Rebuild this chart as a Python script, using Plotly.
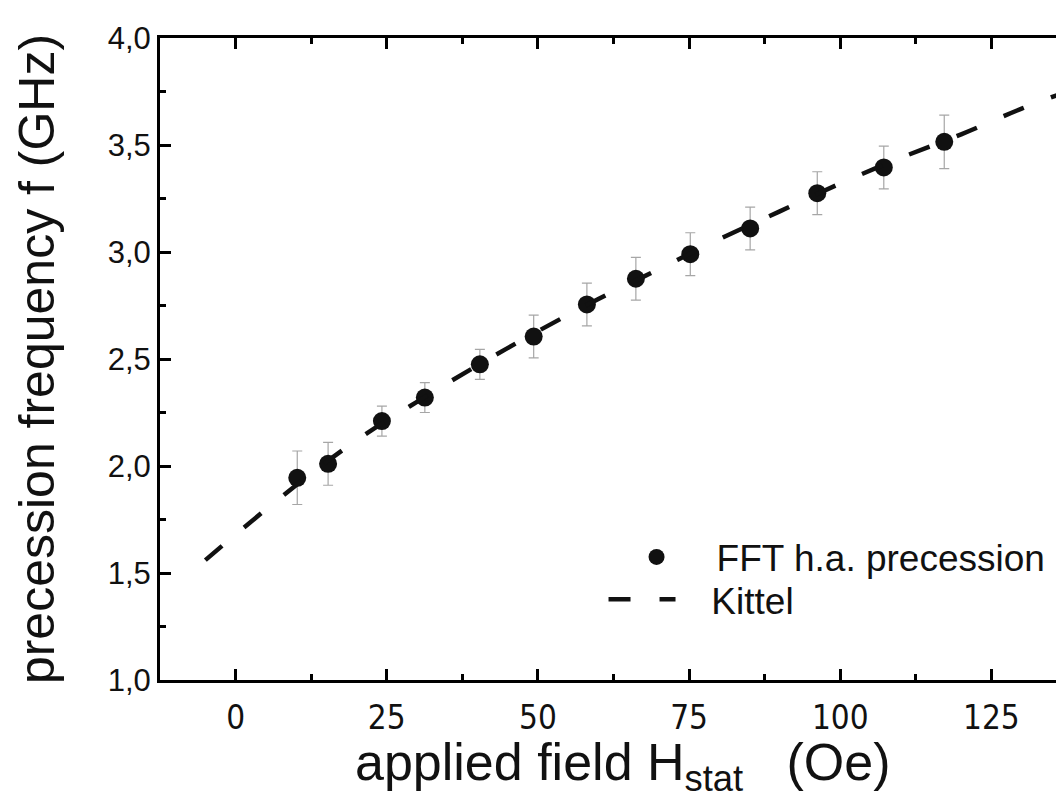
import plotly.graph_objects as go

# measured precession frequencies
field_oe = [10.2, 15.3, 24.2, 31.3, 40.4, 49.3, 58.1, 66.2, 75.2, 85.1, 96.2, 107.2, 117.2]
freq_ghz = [1.945, 2.01, 2.21, 2.32, 2.475, 2.605, 2.755, 2.875, 2.99, 3.11, 3.275, 3.395, 3.515]
freq_err = [0.125, 0.10, 0.07, 0.07, 0.07, 0.10, 0.10, 0.10, 0.10, 0.10, 0.10, 0.10, 0.125]

# Kittel curve
kittel_h = [-5, 0, 10, 20, 30, 40, 50, 60, 70, 80, 90, 100, 110, 120, 130, 137.5]
kittel_f = [1.56, 1.68, 1.91, 2.12, 2.30, 2.47, 2.63, 2.78, 2.92, 3.06, 3.19, 3.32, 3.44, 3.55, 3.67, 3.75]

x_tickvals = [0, 25, 50, 75, 100, 125]
x_ticktext = ["0", "25", "50", "75", "100", "125"]
y_tickvals = [1.0, 1.5, 2.0, 2.5, 3.0, 3.5, 4.0]
y_ticktext = ["1,0", "1,5", "2,0", "2,5", "3,0", "3,5", "4,0"]

FONT = "Liberation Sans, Arial, sans-serif"
NARROW = "Liberation Sans Narrow, Arial Narrow, DejaVu Sans Condensed, Liberation Sans, sans-serif"

fig = go.Figure()
fig.add_trace(go.Scatter(
    x=field_oe, y=freq_ghz, mode="markers", name="FFT h.a. precession",
    legend="legend",
    marker=dict(color="#111111", size=18, symbol="circle"),
    error_y=dict(type="data", array=freq_err, visible=True, color="#a6a6a6",
                 thickness=1.2, width=5),
))
fig.add_trace(go.Scatter(
    x=kittel_h, y=kittel_f, mode="lines", name="   Kittel", line_shape="spline",
    legend="legend2",
    line=dict(color="#111111", width=4.5, dash="22px,29px"),
))

axis_common = dict(
    showline=True, linecolor="black", linewidth=3, mirror="ticks",
    ticks="inside", tickcolor="black", tickwidth=3, ticklen=11,
    showgrid=False, zeroline=False,
)

legend_common = dict(
    xanchor="left", yanchor="middle", bgcolor="rgba(0,0,0,0)",
    font=dict(size=37, family=FONT, color="#111111"),
)

fig.update_layout(
    width=1064, height=798,
    margin=dict(l=152, r=2, t=30, b=126),
    paper_bgcolor="white", plot_bgcolor="white",
    font=dict(family=FONT, color="#111111"),
    xaxis=dict(
        range=[-12.5, 137.5], tickvals=x_tickvals, ticktext=x_ticktext,
        tickfont=dict(family=NARROW, size=33), ticklabelstandoff=6,
        minor=dict(dtick=12.5, tick0=0, ticks="inside", ticklen=6, tickwidth=3, tickcolor="black"),
        **axis_common,
    ),
    yaxis=dict(
        range=[1.0, 4.0], tickvals=y_tickvals, ticktext=y_ticktext,
        tickfont=dict(size=31, family=FONT),
        minor=dict(dtick=0.25, tick0=1.0, ticks="inside", ticklen=6, tickwidth=3, tickcolor="black"),
        title=dict(text="precession frequency f (GHz)", font=dict(size=50, family=FONT), standoff=38),
        **axis_common,
    ),
    legend=dict(x=0.4813, y=0.191, itemwidth=110, **legend_common),
    legend2=dict(x=0.489, y=0.125, itemwidth=67, **legend_common),
    showlegend=True,
    annotations=[dict(
        text="applied field H<sub>stat</sub>   (Oe)", xref="paper", yref="paper",
        x=0.511, y=-0.079, xanchor="center", yanchor="top", showarrow=False,
        font=dict(size=52, family=FONT, color="#111111"),
    )],
)

fig.write_html("out.html")
